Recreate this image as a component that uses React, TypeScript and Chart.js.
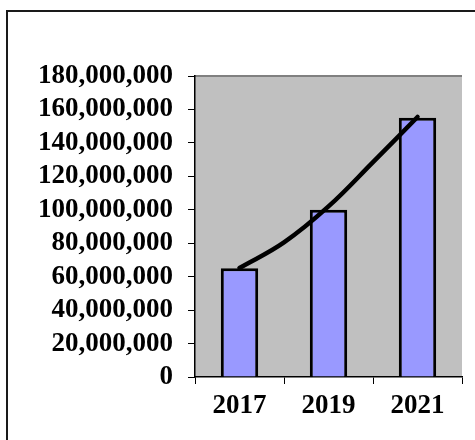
import React, { useEffect, useRef } from "react";
import { Chart, registerables } from "chart.js";

Chart.register(...registerables);

const categories = ["2017", "2019", "2021"];
const barValues = [65000000, 100000000, 155000000];
// trend curve, positions in category units (0 = 2017, 2 = 2021)
const trendPositions = [0, 0.5, 1, 1.5, 2];
const trendValues = [65200000, 80500000, 102000000, 128500000, 155500000];
const yMin = 0;
const yMax = 180000000;
const yStep = 20000000;

const plotBackground = {
  id: "plotBackground",
  beforeDraw(chart: any) {
    const { ctx, chartArea } = chart;
    if (!chartArea) return;
    ctx.save();
    ctx.fillStyle = "#C0C0C0";
    ctx.fillRect(chartArea.left, chartArea.top, chartArea.right - chartArea.left, chartArea.bottom - chartArea.top);
    ctx.strokeStyle = "#808080";
    ctx.lineWidth = 2;
    ctx.beginPath();
    ctx.moveTo(chartArea.left, chartArea.top);
    ctx.lineTo(chartArea.right, chartArea.top);
    ctx.stroke();
    ctx.restore();
  },
};

export default function App() {
  const ref = useRef<HTMLCanvasElement | null>(null);
  useEffect(() => {
    if (!ref.current) return;
    const font = { family: "'Liberation Serif', 'Times New Roman', serif", size: 27, weight: "bold" as const };
    const chart = new Chart(ref.current, {
      type: "bar",
      data: {
        labels: categories,
        datasets: [
          {
            type: "line",
            xAxisID: "xt",
            data: trendPositions.map((p, i) => ({ x: p, y: trendValues[i] })),
            borderColor: "#000000",
            borderWidth: 4.5,
            borderCapStyle: "round",
            pointRadius: 0,
            tension: 0.4,
            fill: false,
            order: 0,
          } as any,
          {
            type: "bar",
            xAxisID: "x",
            data: barValues,
            backgroundColor: "#9999FF",
            borderColor: "#000000",
            borderWidth: 3,
            barPercentage: 0.42,
            categoryPercentage: 1,
            grouped: false,
            order: 1,
          } as any,
        ],
      },
      options: {
        responsive: false,
        animation: false,
        events: [],
        layout: { padding: { left: 0, top: 76, right: 13, bottom: 0 } },
        plugins: { legend: { display: false }, tooltip: { enabled: false } },
        scales: {
          x: {
            offset: true,
            grid: { display: true, drawOnChartArea: false, drawTicks: true, tickLength: 7, color: "#000000", offset: true, lineWidth: 1 },
            border: { display: true, color: "#000000", width: 1.5 },
            ticks: { color: "#000000", font, padding: 6, maxRotation: 0, autoSkip: false },
            afterFit(scale: any) {
              scale.height = 63;
            },
          },
          xt: {
            type: "linear",
            position: "bottom",
            display: false,
            offset: false,
            bounds: "data",
            min: -0.5,
            max: 2.5,
            grid: { offset: false },
          },
          y: {
            min: yMin,
            max: yMax,
            grid: { display: true, drawOnChartArea: false, drawTicks: true, tickLength: 7, color: "#000000", lineWidth: 1 },
            border: { display: true, color: "#000000", width: 1.5 },
            ticks: {
              stepSize: yStep,
              autoSkip: false,
              color: "#000000",
              font,
              padding: 15,
              callback: (v: any) => Number(v).toLocaleString("en-US"),
            },
            afterFit(scale: any) {
              scale.width = 195;
            },
          },
        } as any,
      },
      plugins: [plotBackground],
    });
    return () => chart.destroy();
  }, []);

  return (
    <div style={{ position: "fixed", left: 0, top: 0, width: 475, height: 440, overflow: "hidden", background: "#ffffff" }}>
      <div style={{ position: "absolute", left: 6, top: 10, width: 600, height: 600, border: "2px solid #1a1a1a" }} />
      <canvas ref={ref} width={475} height={440} style={{ position: "absolute", left: 0, top: 0 }} />
    </div>
  );
}
